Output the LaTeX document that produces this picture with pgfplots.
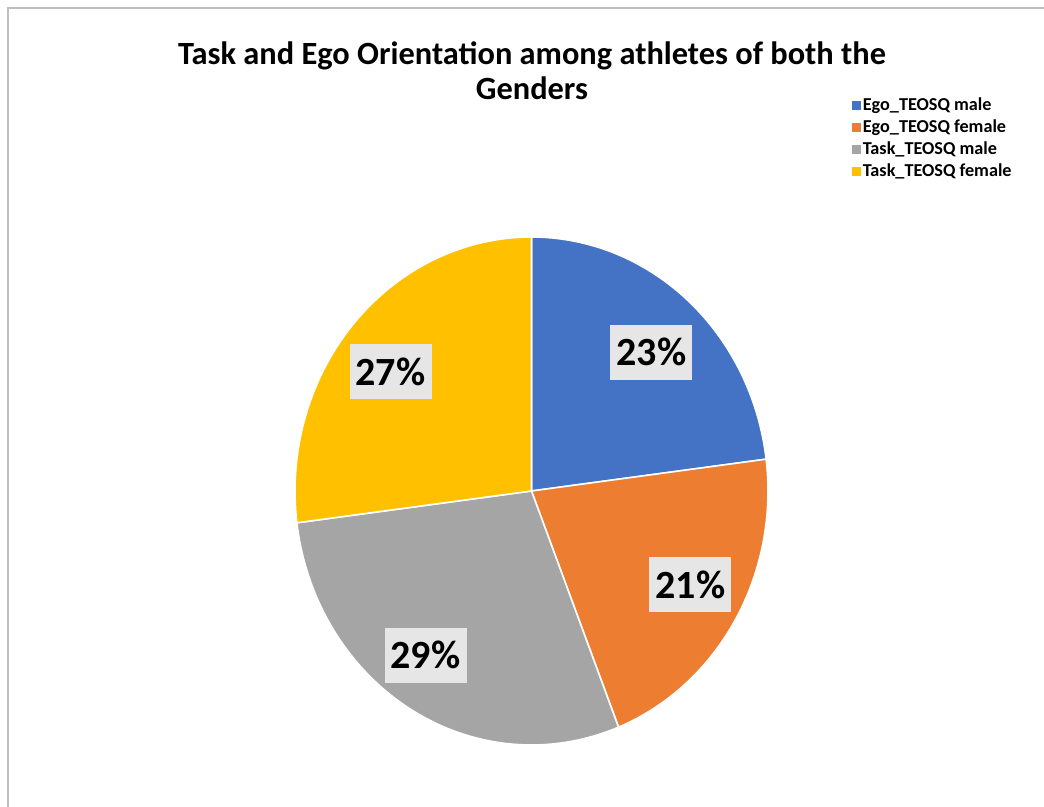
\documentclass[border=0pt]{standalone}
\usepackage{fontspec}
\setmainfont{Carlito}
\usepackage{pgfplots}
\usepackage{pgfplotstable}
\pgfplotsset{compat=1.18}
\definecolor{cBlue}{HTML}{4472C4}
\definecolor{cOrange}{HTML}{ED7D31}
\definecolor{cGrey}{HTML}{A5A5A5}
\definecolor{cGold}{HTML}{FFC000}
\definecolor{cLbl}{HTML}{E7E6E6}
\definecolor{cFrame}{HTML}{BFBFBF}
\tikzset{lbl/.style={fill=cLbl, font=\bfseries\fontsize{20}{24}\selectfont, minimum width=41pt, minimum height=27.5pt, inner sep=0pt}}

\pgfplotstableread{
name value
EgoMale 23
EgoFemale 21
TaskMale 29
TaskFemale 27
}\piedata
\pgfplotstablegetelem{0}{value}\of\piedata \let\vA\pgfplotsretval%
\pgfplotstablegetelem{1}{value}\of\piedata \let\vB\pgfplotsretval%
\pgfplotstablegetelem{2}{value}\of\piedata \let\vC\pgfplotsretval%
\pgfplotstablegetelem{3}{value}\of\piedata \let\vD\pgfplotsretval%
\pgfmathsetmacro{\aA}{90}%
\pgfmathsetmacro{\aB}{\aA-3.6*\vA}%
\pgfmathsetmacro{\aC}{\aB-3.6*\vB}%
\pgfmathsetmacro{\aD}{\aC-3.6*\vC}%
\pgfmathsetmacro{\aE}{\aD-3.6*\vD}%

\begin{document}
\begin{tikzpicture}
\draw[cFrame, line width=1pt] (4pt,-10pt) rectangle (532pt,399.5pt);
\node[anchor=base, font=\bfseries\fontsize{16.2}{19}\selectfont] at (266pt,371pt) {Task and Ego Orientation among athletes of both the};
\node[anchor=base, font=\bfseries\fontsize{16.2}{19}\selectfont] at (266pt,353.5pt) {Genders};
\begin{axis}[
  at={(147.5pt,31pt)}, anchor=south west,
  scale only axis, width=236.5pt, height=254pt,
  xmin=-1, xmax=1, ymin=-1, ymax=1,
  hide axis, clip=false,
  legend image code/.code={\fill[#1,draw=none] (0pt,-2.3pt) rectangle (4.6pt,2.3pt);},
  legend cell align=left,
  legend style={at={(1.176,1.28)}, anchor=north west, draw=none, fill=none,
    font=\bfseries\fontsize{9.1}{11}\selectfont, inner sep=0pt, row sep=0.5pt,
    nodes={inner sep=1pt, text height=6.5pt, text depth=2pt}},
]
\addplot[fill=cBlue, draw=white, line width=0.8pt, domain=\aB:\aA, samples=80, variable=\t] ({cos(\t)},{sin(\t)}) -- (axis cs:0,0) -- cycle;
\addlegendentry{Ego\_TEOSQ male}
\addplot[fill=cOrange, draw=white, line width=0.8pt, domain=\aC:\aB, samples=80, variable=\t] ({cos(\t)},{sin(\t)}) -- (axis cs:0,0) -- cycle;
\addlegendentry{Ego\_TEOSQ female}
\addplot[fill=cGrey, draw=white, line width=0.8pt, domain=\aD:\aC, samples=80, variable=\t] ({cos(\t)},{sin(\t)}) -- (axis cs:0,0) -- cycle;
\addlegendentry{Task\_TEOSQ male}
\addplot[fill=cGold, draw=white, line width=0.8pt, domain=\aE:\aD, samples=80, variable=\t] ({cos(\t)},{sin(\t)}) -- (axis cs:0,0) -- cycle;
\addlegendentry{Task\_TEOSQ female}
\node[lbl] at (axis cs:0.507,0.547) {\vA\%};
\node[lbl] at (axis cs:0.672,-0.370) {\vB\%};
\node[lbl] at (axis cs:-0.448,-0.646) {\vC\%};
\node[lbl] at (axis cs:-0.596,0.469) {\vD\%};
\end{axis}
\pgfresetboundingbox
\useasboundingbox (0pt,0pt) rectangle (522pt,403.5pt);
\end{tikzpicture}%
\end{document}
